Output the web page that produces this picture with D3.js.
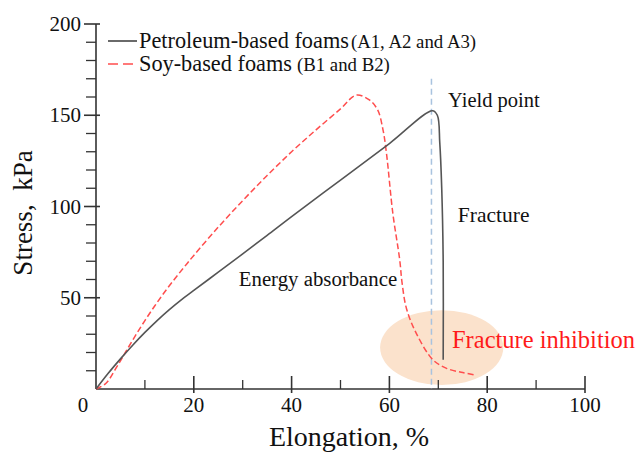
<!DOCTYPE html>
<html>
<head>
<meta charset="utf-8">
<script src="https://cdn.jsdelivr.net/npm/d3@7"></script>
<style>
  html, body { margin: 0; padding: 0; background: #fff; }
  svg { display: block; }
</style>
</head>
<body>
<svg id="chart" width="640" height="452"></svg>
<script>
// ---- data ----
const petroleum = [
  [0,0],[2.5,8.6],[5,16.5],[7.5,24],[10,31],[12.5,37.5],[15,43.5],[17.5,49],[20,54],
  [25,64],[30,74],[35,84.2],[40,94.5],[50,114.5],[60,134.5],[68.8,152.5],
  [69.8,150],[70.3,135],[70.7,110],[71,70],[71,16]
];
const soy = [
  [0,0],[2,3],[4,11],[6,20],[8,29],[10,37.5],[12,45.5],[14,53],[16,60],[18,66.7],
  [20,73.2],[25,88.7],[30,103.2],[35,117],[40,130],[45,142],[50,153.5],[53.2,161],
  [55.9,158.4],[57.6,152.9],[58.7,141.9],[59.4,129.2],[60.7,96.3],[62.1,71],
  [62.6,58],[63.5,44],[65.5,30.5],[68.9,16],[71.7,11.3],[75,9],[77.5,7.7]
];
const yieldLineX = 68.6;
const yieldLineTop = 170;
const xMajorTicks = [20, 40, 60, 80, 100];
const xMinorTicks = [10, 30, 50, 70, 90];
const yMajorTicks = [50, 100, 150, 200];
const yMinorTicks = [10, 20, 30, 40, 60, 70, 80, 90, 110, 120, 130, 140, 160, 170, 180, 190];
const legendNames = ["Petroleum-based foams", "Soy-based foams"];
const legendNotes = ["(A1, A2 and A3)", "(B1 and B2)"];
const annotations = [
  { text: "Yield point", x: 72.0, y: 154.5, size: 20.5, color: "#111" },
  { text: "Fracture", x: 74.0, y: 91.5, size: 21.5, color: "#111" },
  { text: "Energy absorbance", x: 29.2, y: 56.4, size: 20.8, color: "#111" },
  { text: "Fracture inhibition", x: 72.8, y: 22.5, size: 24.5, color: "#ff1a1a" }
];
const ellipse = { cx: 70.7, cy: 22.7, rx: 12.6, ry: 20.5 };

// ---- layout ----
const FONT = "'Liberation Serif', 'DejaVu Serif', 'Times New Roman', serif";
const svg = d3.select("#chart").attr("font-family", FONT).style("font-family", FONT);
const x = d3.scaleLinear().domain([0, 100]).range([96, 585]);
const y = d3.scaleLinear().domain([0, 200]).range([389, 24]);
const axisColor = "#333";

// ellipse highlight
svg.append("ellipse")
  .attr("cx", x(ellipse.cx)).attr("cy", y(ellipse.cy))
  .attr("rx", x(ellipse.rx) - x(0)).attr("ry", y(0) - y(ellipse.ry))
  .attr("fill", "#fbe2cc");

// axes
const gx = svg.append("g");
gx.append("line").attr("x1", x(0)).attr("x2", x(100)).attr("y1", y(0)).attr("y2", y(0))
  .attr("stroke", axisColor).attr("stroke-width", 1.6);
gx.selectAll("line.maj").data(xMajorTicks).join("line").attr("class", "maj")
  .attr("x1", d => x(d)).attr("x2", d => x(d)).attr("y1", y(0) - 13).attr("y2", y(0) + 4)
  .attr("stroke", axisColor).attr("stroke-width", 1.6);
gx.selectAll("line.min").data(xMinorTicks).join("line").attr("class", "min")
  .attr("x1", d => x(d)).attr("x2", d => x(d)).attr("y1", y(0) - 9).attr("y2", y(0))
  .attr("stroke", axisColor).attr("stroke-width", 1.3);
gx.selectAll("text").data(xMajorTicks).join("text")
  .attr("x", d => x(d)).attr("y", 412).attr("text-anchor", "middle")
  .attr("font-size", 21).attr("fill", "#111").text(d => d);
gx.append("text").attr("x", x(0) - 13).attr("y", 412).attr("text-anchor", "middle")
  .attr("font-size", 21).attr("fill", "#111").text("0");

const gy = svg.append("g");
gy.append("line").attr("x1", x(0)).attr("x2", x(0)).attr("y1", y(0)).attr("y2", y(200))
  .attr("stroke", axisColor).attr("stroke-width", 1.6);
gy.selectAll("line.maj").data(yMajorTicks).join("line").attr("class", "maj")
  .attr("x1", x(0) - 12).attr("x2", x(0) + 4).attr("y1", d => y(d)).attr("y2", d => y(d))
  .attr("stroke", axisColor).attr("stroke-width", 1.6);
gy.selectAll("line.min").data(yMinorTicks).join("line").attr("class", "min")
  .attr("x1", x(0) - 10).attr("x2", x(0)).attr("y1", d => y(d)).attr("y2", d => y(d))
  .attr("stroke", axisColor).attr("stroke-width", 1.3);
gy.selectAll("text").data(yMajorTicks).join("text")
  .attr("x", 81).attr("y", d => y(d) + 7).attr("text-anchor", "end")
  .attr("font-size", 21).attr("fill", "#111").text(d => d);

// axis titles
svg.append("text").attr("transform", "translate(32,213) rotate(-90)")
  .attr("text-anchor", "middle").attr("font-size", 27).attr("fill", "#111")
  .text("Stress,\u00A0 kPa");
svg.append("text").attr("x", 349).attr("y", 446)
  .attr("text-anchor", "middle").attr("font-size", 28).attr("fill", "#111")
  .text("Elongation, %");

// yield dashed line
svg.append("line")
  .attr("x1", x(yieldLineX)).attr("x2", x(yieldLineX))
  .attr("y1", y(yieldLineTop)).attr("y2", y(0))
  .attr("stroke", "#a9c3df").attr("stroke-width", 1.5).attr("stroke-dasharray", "6,4");

// curves
const line = d3.line().x(d => x(d[0])).y(d => y(d[1])).curve(d3.curveCatmullRom.alpha(0.5));
svg.append("path").datum(soy).attr("d", line)
  .attr("fill", "none").attr("stroke", "#ff4d4d").attr("stroke-width", 1.5)
  .attr("stroke-dasharray", "6,3");
svg.append("path").datum(petroleum).attr("d", line)
  .attr("fill", "none").attr("stroke", "#555").attr("stroke-width", 1.6);

// annotations
svg.selectAll("text.ann").data(annotations).join("text").attr("class", "ann")
  .attr("x", d => x(d.x)).attr("y", d => y(d.y))
  .attr("font-size", d => d.size).attr("fill", d => d.color).text(d => d.text);

// legend
const leg = svg.append("g");
const legY = [41, 64];
const legStyles = [
  { stroke: "#444", dash: null },
  { stroke: "#ff4d4d", dash: "10,5" }
];
legendNames.forEach((name, i) => {
  leg.append("line").attr("x1", 108).attr("x2", 137).attr("y1", legY[i]).attr("y2", legY[i])
    .attr("stroke", legStyles[i].stroke).attr("stroke-width", 1.6)
    .attr("stroke-dasharray", legStyles[i].dash);
  const t = leg.append("text").attr("x", 139).attr("y", legY[i] + 7).attr("fill", "#111");
  t.append("tspan").attr("font-size", 22.3).text(name);
  t.append("tspan").attr("font-size", 18.8).attr("dx", i === 0 ? 2 : 5).text(legendNotes[i]);
});
</script>
</body>
</html>
